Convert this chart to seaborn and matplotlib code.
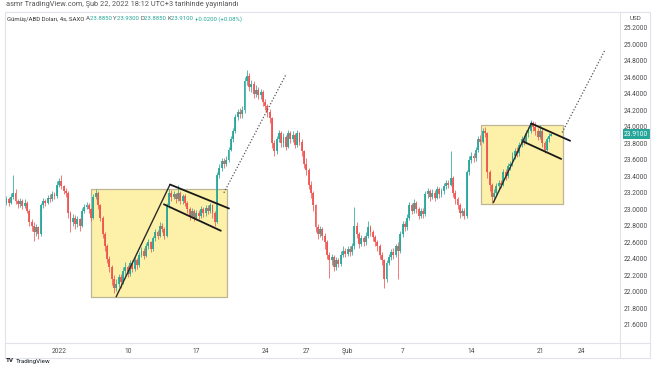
import numpy as np
import pandas as pd
import matplotlib
matplotlib.use("Agg")
import matplotlib.pyplot as plt
from matplotlib.patches import Rectangle
from matplotlib.lines import Line2D
import seaborn as sns

# silver / USD, 4h bars (open of the first bar, then close/high/low per bar)
first_open = 23.08
closes = [
    23.12, 23.08, 23.15, 23.20, 23.10, 23.06, 23.10, 23.04, 23.08, 22.98,
    22.85, 22.80, 22.72, 22.78, 22.70, 23.05, 23.10, 23.08, 23.14, 23.12,
    23.18, 23.16, 23.30, 23.34, 23.28, 23.22, 23.20, 22.95, 22.85, 22.90,
    22.82, 22.88, 22.80, 22.98, 23.03, 23.05, 23.00, 22.90, 23.15, 23.20,
    23.05, 22.90, 22.70, 22.55, 22.40, 22.30, 22.15, 22.05, 22.10, 22.18,
    22.12, 22.25, 22.30, 22.22, 22.35, 22.28, 22.38, 22.32, 22.45, 22.50,
    22.44, 22.55, 22.60, 22.52, 22.65, 22.72, 22.68, 22.80, 22.76, 22.68,
    23.05, 23.20, 23.15, 23.18, 23.12, 23.20, 23.10, 23.16, 23.08, 23.00,
    22.92, 22.98, 22.90, 22.96, 22.92, 23.00, 22.95, 23.02, 22.98, 23.05,
    22.95, 22.85, 23.42, 23.50, 23.58, 23.55, 23.60, 23.72, 23.85, 23.95,
    24.12, 24.18, 24.15, 24.20, 24.55, 24.62, 24.48, 24.52, 24.40, 24.45,
    24.38, 24.42, 24.30, 24.25, 24.18, 24.10, 23.80, 23.70, 23.85, 23.92,
    23.80, 23.88, 23.76, 23.92, 23.85, 23.90, 23.78, 23.92, 23.82, 23.70,
    23.55, 23.48, 23.30, 23.20, 23.05, 22.78, 22.70, 22.76, 22.68, 22.60,
    22.45, 22.38, 22.42, 22.30, 22.38, 22.34, 22.45, 22.50, 22.46, 22.52,
    22.48, 22.55, 22.80, 22.70, 22.58, 22.65, 22.60, 22.68, 22.78, 22.72,
    22.66, 22.60, 22.55, 22.45, 22.38, 22.15, 22.35, 22.42, 22.48, 22.45,
    22.55, 22.50, 22.70, 22.82, 22.78, 22.90, 23.05, 22.98, 23.08, 23.00,
    22.92, 22.98, 22.94, 23.18, 23.22, 23.15, 23.20, 23.14, 23.24, 23.18,
    23.22, 23.28, 23.32, 23.30, 23.38, 23.20, 23.12, 23.05, 22.96, 22.98,
    22.92, 23.45, 23.60, 23.65, 23.62, 23.72, 23.85, 23.82, 23.95, 23.92,
    23.45, 23.30, 23.15, 23.20, 23.28, 23.32, 23.30, 23.45, 23.40, 23.52,
    23.55, 23.65, 23.70, 23.68, 23.78, 23.85, 23.82, 23.92, 23.95, 24.05,
    24.00, 23.95, 23.88, 23.95, 23.80, 23.72, 23.85, 23.885, 23.91,
]
highs = [
    23.16, 23.15, 23.20, 23.42, 23.24, 23.13, 23.14, 23.12, 23.12, 23.10,
    23.00, 22.88, 22.84, 22.82, 22.80, 23.08, 23.14, 23.13, 23.17, 23.18,
    23.22, 23.21, 23.34, 23.38, 23.42, 23.30, 23.26, 23.22, 22.98, 22.94,
    22.93, 22.92, 22.90, 23.01, 23.06, 23.09, 23.08, 23.02, 23.18, 23.25,
    23.22, 23.07, 22.92, 22.73, 22.58, 22.44, 22.33, 22.20, 22.15, 22.22,
    22.22, 22.30, 22.36, 22.33, 22.38, 22.38, 22.42, 22.41, 22.48, 22.54,
    22.53, 22.59, 22.64, 22.62, 22.68, 22.76, 22.75, 22.84, 22.83, 22.79,
    23.08, 23.24, 23.23, 23.22, 23.20, 23.30, 23.22, 23.19, 23.18, 23.10,
    23.03, 23.02, 23.00, 22.99, 22.99, 23.04, 23.03, 23.05, 23.05, 23.08,
    23.07, 22.98, 23.45, 23.55, 23.62, 23.62, 23.64, 23.76, 23.89, 23.99,
    24.16, 24.22, 24.23, 24.25, 24.60, 24.69, 24.65, 24.57, 24.55, 24.50,
    24.48, 24.46, 24.44, 24.34, 24.28, 24.22, 24.12, 23.84, 23.89, 23.96,
    23.95, 23.92, 23.90, 23.96, 23.95, 23.95, 23.93, 23.96, 23.94, 23.85,
    23.72, 23.62, 23.50, 23.34, 23.22, 23.07, 22.82, 22.80, 22.79, 22.71,
    22.63, 22.48, 22.46, 22.45, 22.42, 22.41, 22.50, 22.55, 22.53, 22.56,
    22.55, 22.59, 23.03, 22.84, 22.73, 22.69, 22.68, 22.72, 22.86, 22.81,
    22.75, 22.69, 22.63, 22.58, 22.48, 22.40, 22.38, 22.46, 22.52, 22.53,
    22.58, 22.60, 22.74, 22.86, 22.86, 22.94, 23.09, 23.08, 23.12, 23.10,
    23.03, 23.02, 23.01, 23.22, 23.26, 23.25, 23.24, 23.23, 23.28, 23.27,
    23.26, 23.32, 23.36, 23.36, 23.70, 23.40, 23.23, 23.15, 23.08, 23.02,
    23.01, 23.48, 23.64, 23.69, 23.68, 23.76, 23.89, 23.90, 23.99, 24.00,
    23.94, 23.48, 23.32, 23.24, 23.32, 23.36, 23.36, 23.49, 23.49, 23.56,
    23.59, 23.69, 23.74, 23.75, 23.82, 23.89, 23.90, 23.96, 24.00, 24.08,
    24.07, 24.06, 23.98, 24.02, 23.98, 23.83, 23.88, 23.92, 23.93,
]
lows = [
    23.05, 23.04, 23.06, 23.13, 23.07, 23.02, 23.03, 23.00, 23.01, 22.95,
    22.80, 22.74, 22.62, 22.68, 22.64, 22.68, 23.02, 23.04, 23.06, 23.09,
    23.10, 23.12, 23.14, 23.27, 23.24, 23.18, 23.15, 22.90, 22.72, 22.80,
    22.76, 22.78, 22.74, 22.78, 22.95, 23.00, 22.96, 22.86, 22.88, 23.12,
    23.00, 22.86, 22.65, 22.50, 22.35, 22.24, 22.08, 21.99, 22.01, 22.06,
    22.05, 22.09, 22.20, 22.18, 22.19, 22.24, 22.25, 22.28, 22.30, 22.42,
    22.40, 22.42, 22.52, 22.48, 22.50, 22.62, 22.64, 22.66, 22.72, 22.64,
    22.66, 23.02, 23.10, 23.12, 23.08, 23.10, 23.06, 23.07, 23.04, 22.96,
    22.87, 22.89, 22.86, 22.87, 22.88, 22.90, 22.91, 22.92, 22.94, 22.95,
    22.90, 22.80, 22.83, 23.38, 23.46, 23.50, 23.52, 23.57, 23.70, 23.82,
    23.92, 24.08, 24.10, 24.11, 24.17, 24.50, 24.43, 24.42, 24.35, 24.36,
    24.33, 24.34, 24.25, 24.20, 24.12, 24.05, 23.74, 23.64, 23.67, 23.82,
    23.75, 23.76, 23.72, 23.74, 23.80, 23.82, 23.74, 23.75, 23.78, 23.65,
    23.50, 23.42, 23.25, 23.14, 22.98, 22.72, 22.64, 22.66, 22.63, 22.52,
    22.40, 22.17, 22.33, 22.25, 22.27, 22.30, 22.31, 22.42, 22.42, 22.43,
    22.44, 22.45, 22.52, 22.65, 22.53, 22.55, 22.56, 22.57, 22.65, 22.68,
    22.62, 22.56, 22.50, 22.40, 22.32, 22.05, 22.12, 22.32, 22.38, 22.40,
    22.42, 22.15, 22.47, 22.67, 22.74, 22.75, 22.87, 22.94, 22.95, 22.95,
    22.88, 22.89, 22.90, 22.92, 23.14, 23.10, 23.12, 23.10, 23.12, 23.14,
    23.15, 23.19, 23.25, 23.26, 23.28, 23.15, 23.07, 23.00, 22.90, 22.92,
    22.88, 22.90, 23.42, 23.56, 23.57, 23.59, 23.69, 23.78, 23.80, 23.88,
    23.38, 23.22, 23.08, 23.10, 23.16, 23.24, 23.26, 23.28, 23.36, 23.38,
    23.48, 23.52, 23.61, 23.63, 23.65, 23.75, 23.78, 23.80, 23.88, 23.92,
    23.95, 23.90, 23.84, 23.85, 23.75, 23.68, 23.70, 23.82, 23.885,
]

# time axis in trading days, 0 = Jan 3 2022
first_bar_day = -3.85
bars_per_day = 6
tick_days = [0, 5, 10, 15, 18, 21, 25, 30, 35, 38]
tick_labels = ["2022", "10", "17", "24", "27", "Şub", "7", "14", "21", "24"]
price_ticks = [21.6, 21.8, 22.0, 22.2, 22.4, 22.6, 22.8, 23.0, 23.2, 23.4,
               23.6, 23.8, 24.0, 24.2, 24.4, 24.6, 24.8, 25.0, 25.2]
last_price = 23.91

# drawings (day, price)
box1_days = [2.32, 12.20]
box1_prices = [21.94, 23.24]
box2_days = [30.72, 36.67]
box2_prices = [23.07, 24.02]
pole1 = ([4.14, 8.06], [21.94, 23.30])
upper1 = ([8.06, 12.35], [23.30, 23.01])
lower1 = ([7.62, 11.76], [23.06, 22.74])
proj1 = ([11.98, 16.49], [23.20, 24.63])
pole2 = ([31.59, 34.35], [23.08, 24.04])
upper2 = ([34.35, 37.18], [24.04, 23.83])
lower2 = ([33.77, 36.53], [23.82, 23.61])
proj2 = ([36.60, 39.72], [23.93, 24.93])

UP = "#26a69a"
DOWN = "#ef5350"
TXT = "#4a4a4a"

sns.set_theme(style="white")
plt.rcParams["font.family"] = ["Roboto", "DejaVu Sans"]

W, H = 654, 366
fig = plt.figure(figsize=(W / 100, H / 100), dpi=100)
fig.patch.set_facecolor("white")


def fx(x):
    return x / W


def fy(y):
    return 1 - y / H


top_px, bottom_px, left_px, right_px = 12, 343, 5, 620
ax = fig.add_axes([fx(left_px), fy(bottom_px), fx(right_px - left_px),
                   (bottom_px - top_px) / H])

df = pd.DataFrame({"close": closes, "high": highs, "low": lows})
df["open"] = [first_open] + closes[:-1]
df["day"] = first_bar_day + np.arange(len(df)) / bars_per_day
colors = np.where(df["close"] >= df["open"], UP, DOWN)

# boxes under the candles
for days, prices in [(box1_days, box1_prices), (box2_days, box2_prices)]:
    ax.add_patch(Rectangle((days[0], prices[0]), days[1] - days[0],
                           prices[1] - prices[0], facecolor="#fdf0a8",
                           edgecolor="#bdb595", lw=0.9, zorder=1))

ax.vlines(df["day"], df["low"], df["high"], colors=colors, lw=0.6,
          alpha=0.9, zorder=2)
body = (df["close"] - df["open"]).abs().clip(lower=0.01)
ax.bar(df["day"], body, bottom=df[["open", "close"]].min(axis=1),
       width=0.14, color=colors, alpha=0.9, linewidth=0, zorder=3)

for xs, ys in [pole1, pole2]:
    sns.lineplot(x=xs, y=ys, ax=ax, color="#2b2b2b", lw=1.0, sort=False,
                 estimator=None, zorder=4)
for xs, ys in [upper1, lower1, upper2, lower2]:
    sns.lineplot(x=xs, y=ys, ax=ax, color="#1a1a1a", lw=1.3, sort=False,
                 estimator=None, zorder=4)
for xs, ys in [proj1, proj2]:
    sns.lineplot(x=xs, y=ys, ax=ax, color="#555555", lw=0.9, ls=(0, (1, 1.5)),
                 sort=False, estimator=None, zorder=4)

ax.set_xlim(-3.95, 40.81)
ax.set_ylim(21.38, 25.39)
for s in ax.spines.values():
    s.set_visible(False)
ax.grid(False)
ax.set_xticks(tick_days)
ax.set_xticklabels(tick_labels)
ax.set_yticks(price_ticks)
ax.set_yticklabels([f"{v:.4f}" for v in price_ticks])
ax.yaxis.tick_right()
ax.tick_params(axis="y", length=0, pad=3, labelsize=4.8, labelcolor=TXT)
ax.tick_params(axis="x", length=0, pad=3.5, labelsize=4.8, labelcolor=TXT)
ax.set_xlabel("")
ax.set_ylabel("")

# last price tag on the price scale
ax.annotate(f"{last_price:.4f}", xy=(1, last_price),
            xycoords=ax.get_yaxis_transform(), xytext=(3, 0),
            textcoords="offset points", va="center", ha="left",
            fontsize=4.8, color="white",
            bbox=dict(boxstyle="square,pad=0.25", fc=UP, ec="none"))

# pane frame
frame = "#e0e3eb"
fig.add_artist(Rectangle((fx(5), fy(358)), fx(645), (358 - 12) / H,
                         fill=False, edgecolor=frame, lw=0.8,
                         transform=fig.transFigure))
fig.add_artist(Line2D([fx(620), fx(620)], [fy(12), fy(358)], color=frame,
                      lw=0.8, transform=fig.transFigure))
fig.add_artist(Line2D([fx(5), fx(650)], [fy(343), fy(343)], color=frame,
                      lw=0.8, transform=fig.transFigure))

fig.text(fx(6), fy(5), "asmr TradingView.com, Şub 22, 2022 18:12 UTC+3 "
         "tarihinde yayınlandı", fontsize=5.3, color="#555555", va="center")
fig.text(fx(635), fy(18), "USD", fontsize=4.5, color=TXT, va="center",
         ha="center")

# symbol header with OHLC values
t = fig.text(fx(7), fy(19), "Gümüş/ABD Doları, 4s, SAXO ", fontsize=4.3,
             color="#333333", va="center")
parts = [("A", "#555555"), ("23.8850 ", UP), ("Y", "#555555"),
         ("23.9300 ", UP), ("D", "#555555"), ("23.8850 ", UP),
         ("K", "#555555"), ("23.9100 ", UP), ("+0.0200 (+0.08%)", UP)]
for s, c in parts:
    t = ax.annotate(s, xy=(1, 0), xycoords=t, va="bottom", ha="left",
                    fontsize=4.3, color=c, annotation_clip=False)

fig.text(fx(6), fy(361), "TV", fontsize=4.5, color="#131722",
         fontweight="bold", va="center")
fig.text(fx(16), fy(361), "TradingView", fontsize=4.5, color="#131722",
         va="center")

fig.savefig("out.png", dpi=100)
